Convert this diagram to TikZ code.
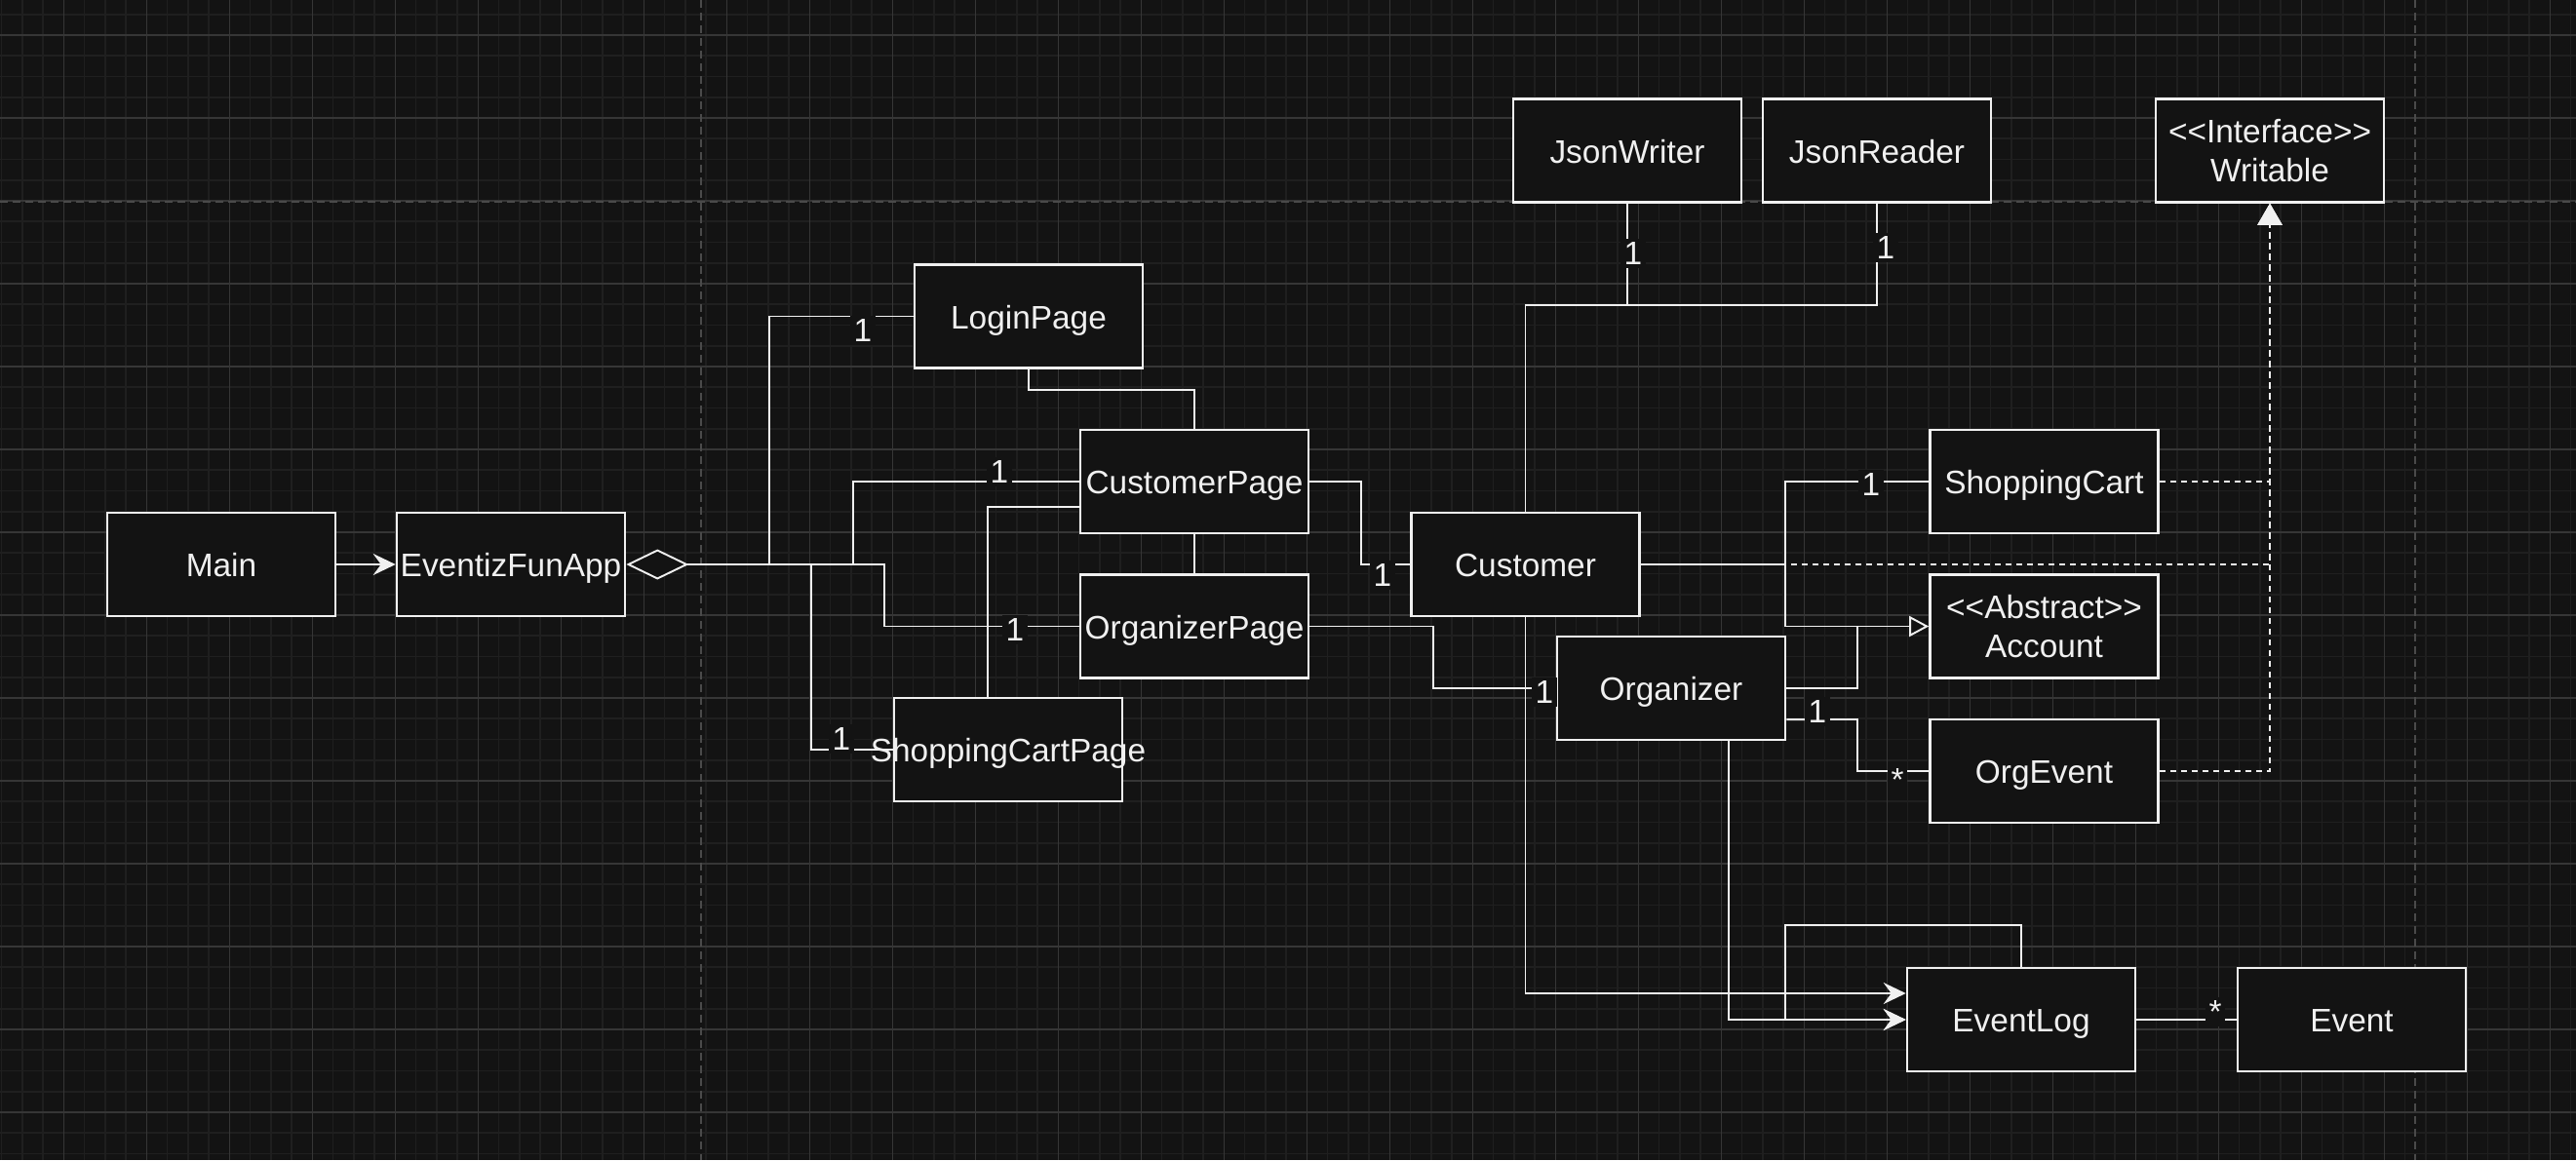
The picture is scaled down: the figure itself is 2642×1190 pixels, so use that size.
\documentclass[tikz,border=0pt]{standalone}
\usepackage{fontspec}
\setmainfont{Liberation Sans}
\usetikzlibrary{arrows.meta}
\definecolor{bg}{HTML}{131313}
\definecolor{fg}{HTML}{F0F0F0}
\definecolor{minorgrid}{HTML}{1F1F1F}
\definecolor{majorgrid}{HTML}{363636}
\definecolor{pagegrid}{HTML}{4A4A4A}
\newcommand{\stereo}[1]{<\kern0pt<#1>\kern0pt>}
\tikzset{
  box/.style={draw=fg,fill=bg,line width=0.7pt,minimum width=2.34cm,minimum height=1.06cm,inner sep=0pt,text=fg},
  cls/.style={box,text height=0.9em,text depth=0.18em},
  cls2/.style={box,align=center},
  conn/.style={draw=fg,line width=0.55pt},
  mult/.style={fill=bg,text=fg,inner sep=1pt},
  arr/.style={-{Stealth[length=0.23cm,width=0.22cm,inset=0.08cm]}},
  agg/.style={{Diamond[open,fill=bg,length=0.64cm,width=0.31cm]}-},
  gen/.style={-{Triangle[open,fill=bg,length=0.2cm,width=0.21cm]}},
  real/.style={conn,dash pattern=on 0.06cm off 0.05cm,-{Triangle[length=0.22cm,width=0.25cm,fill=fg]}}
}
\begin{document}
\begin{tikzpicture}[x=0.01cm,y=-0.01cm,font=\fontsize{9.5}{11.3}\selectfont]
	\useasboundingbox (0,0) rectangle (2642,1190);
	\fill[bg] (0,0) rectangle (2642,1190);
	\foreach \i in {0,...,124} \draw[minorgrid,line width=0.45pt] ({1.65+21.25*\i},0) -- ++(0,1190);
	\foreach \j in {0,...,55} \draw[minorgrid,line width=0.45pt] (0,{14.75+21.25*\j}) -- ++(2642,0);
	\foreach \i in {0,...,30} \draw[majorgrid,line width=0.35pt] ({65.4+85*\i},0) -- ++(0,1190);
	\foreach \j in {0,...,13} \draw[majorgrid,line width=0.35pt] (0,{36+85*\j}) -- ++(2642,0);
	\draw[pagegrid,line width=0.4pt,dash pattern=on 0.08cm off 0.05cm] (719,0) -- (719,1190) (2477,0) -- (2477,1190) (0,207) -- (2642,207);

	\node[cls] (main) at (227,579) {Main};
	\node[cls] (app) at (524,579) {EventizFunApp};
	\node[cls] (login) at (1055,324.5) {LoginPage};
	\node[cls] (custpage) at (1225,494) {CustomerPage};
	\node[cls] (orgpage) at (1225,642.5) {OrganizerPage};
	\node[cls] (cartpage) at (1034,769) {\makebox[0pt]{ShoppingCartPage}};
	\node[cls] (customer) at (1564.5,579) {Customer};
	\node[cls] (organizer) at (1714,706) {Organizer};
	\node[cls] (jsonw) at (1669,154.5) {JsonWriter};
	\node[cls] (jsonr) at (1925,154.5) {JsonReader};
	\node[cls2] (writable) at (2328,154.5) {\stereo{Interface}\\Writable};
	\node[cls] (cart) at (2096.5,494) {ShoppingCart};
	\node[cls2] (account) at (2096.5,642.5) {\stereo{Abstract}\\Account};
	\node[cls] (orgevent) at (2096.5,791) {OrgEvent};
	\node[cls] (eventlog) at (2073,1046) {EventLog};
	\node[cls] (event) at (2412,1046) {Event};

	\draw[conn,arr] (main) -- (app);

	\coordinate (hub) at (705,579);
	\draw[conn,agg] (app.east) -- (907,579) |- (orgpage.west);
	\draw[conn] (hub) -- (789,579) |- (login.west);
	\draw[conn] (hub) -- (875,579) |- (custpage.west);
	\draw[conn] (hub) -- (832,579) |- (cartpage.west);

	\draw[conn] (login.south) -- ++(0,21) -| (custpage.north);
	\draw[conn] (custpage) -- (orgpage);
	\draw[conn] ([yshift=-0.26cm]custpage.west) -| ([xshift=-0.21cm]cartpage.north);
	\draw[conn] (custpage.east) -- (1396,494) |- (customer.west);
	\draw[conn] (orgpage.east) -- (1470,642.5) |- (organizer.west);

	\coordinate (jsplit) at (1669,313);
	\draw[conn] (customer.north) |- (jsplit) -- (jsonw.south);
	\draw[conn] (jsplit) -| (jsonr.south);

	\draw[real] (cart.east) -| (writable.south);
	\draw[real] (customer.east) -| (writable.south);
	\draw[real] (orgevent.east) -| (writable.south);

	\draw[conn] (customer.east) -- (1831,579) |- (cart.west);
	\draw[conn,gen] (customer.east) -- (1831,579) |- (account.west);
	\draw[conn] (organizer.east) -| (1905,642.5);
	\draw[conn] ([yshift=-0.32cm]organizer.east) -- (1905,738) |- (orgevent.west);

	\draw[conn,arr] (customer.south) |- ([yshift=0.27cm]eventlog.west);
	\draw[conn,arr] ([xshift=0.586cm]organizer.south) |- (eventlog.west);
	\draw[conn,arr] (eventlog.north) -- ++(0,-43) -| (1831,1046) -- (eventlog.west);
	\draw[conn] (eventlog) -- (event);

	\node[mult] (mlogin) at (885,339) {1};
	\node[mult] (mcustpage) at (1025,484) {1};
	\node[mult] (morgpage) at (1041,646) {1};
	\node[mult] (mcartpage) at (863,758) {1};
	\node[mult] (mcustomer) at (1418,590) {1};
	\node[mult] (morganizer) at (1584,710) {1};
	\node[mult] (mjsonw) at (1675,260) {1};
	\node[mult] (mjsonr) at (1934,254) {1};
	\node[mult] (mcart) at (1919,497) {1};
	\node[mult] (morgone) at (1864,730) {1};
	\node[mult] (morgmany) at (1946,800) {*};
	\node[mult] (mevent) at (2272,1038) {*};
\end{tikzpicture}
\end{document}
